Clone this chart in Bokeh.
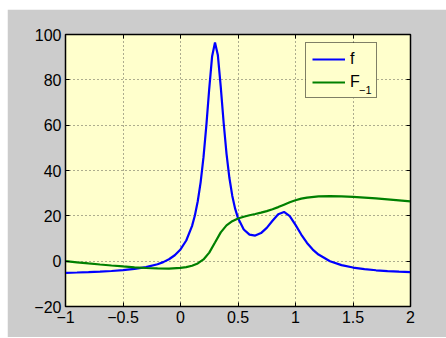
from bokeh.plotting import figure
from bokeh.models import (Range1d, FixedTicker, LinearAxis, Legend, LegendItem,
                          BoxAnnotation)
from bokeh.core.properties import value
from bokeh.embed import file_html
from bokeh.resources import INLINE

# ---- data ----
x_f = [-1, -0.9, -0.8, -0.7, -0.6, -0.5, -0.4, -0.3, -0.2, -0.15, -0.1, -0.05,
       0, 0.05, 0.1, 0.125, 0.15, 0.175, 0.2, 0.225, 0.25, 0.275, 0.3, 0.325,
       0.35, 0.375, 0.4, 0.425, 0.45, 0.475, 0.5, 0.55, 0.6, 0.65, 0.7, 0.75,
       0.8, 0.85, 0.9, 0.95, 1.0, 1.05, 1.1, 1.15, 1.2, 1.3, 1.4, 1.5, 1.6,
       1.7, 1.8, 1.9, 2.0]
f_vals = [-5.14, -5.01, -4.84, -4.63, -4.34, -3.96, -3.42, -2.62, -1.35, -0.42,
          0.84, 2.61, 5.18, 9.11, 15.47, 20.18, 26.43, 34.79, 45.89, 60.02,
          76.16, 90.44, 96.5, 90.82, 76.92, 61.17, 47.45, 36.79, 28.89, 23.15,
          19.0, 13.95, 11.69, 11.30, 12.38, 14.71, 17.85, 20.73, 21.70, 19.84,
          16.0, 11.75, 8.04, 5.12, 2.91, -0.01, -1.73, -2.81, -3.53, -4.02,
          -4.38, -4.65, -4.86]

x_F = [-1, -0.9, -0.8, -0.7, -0.6, -0.5, -0.4, -0.3, -0.2, -0.1, 0, 0.05, 0.1,
       0.15, 0.2, 0.25, 0.3, 0.35, 0.4, 0.45, 0.5, 0.55, 0.6, 0.65, 0.7, 0.75,
       0.8, 0.85, 0.9, 0.95, 1.0, 1.05, 1.1, 1.2, 1.3, 1.4, 1.5, 1.6, 1.7, 1.8,
       1.9, 2.0]
F_vals = [0.0, -0.51, -1.00, -1.47, -1.92, -2.34, -2.71, -3.01, -3.22, -3.26,
          -2.98, -2.63, -2.03, -1.01, 0.75, 3.77, 8.22, 12.70, 15.77, 17.63,
          18.81, 19.61, 20.25, 20.81, 21.40, 22.07, 22.89, 23.85, 24.93, 25.98,
          26.88, 27.57, 28.06, 28.59, 28.72, 28.62, 28.39, 28.07, 27.69, 27.27,
          26.82, 26.35]

x_ticks = [-1, -0.5, 0, 0.5, 1, 1.5, 2]
x_tick_labels = ["\u22121", "\u22120.5", "0", "0.5", "1", "1.5", "2"]
y_ticks = [-20, 0, 20, 40, 60, 80, 100]
y_tick_labels = ["\u221220", "0", "20", "40", "60", "80", "100"]

legend_labels = ["f", "F"]
legend_subscript = "\u22121"

FONT = "Liberation Sans"
BG = "#ffffcc"

p = figure(width=439, height=328, output_backend="svg", toolbar_location=None,
           x_range=Range1d(-1, 2), y_range=Range1d(-20, 100),
           min_border_left=58, min_border_right=36, min_border_top=25,
           min_border_bottom=31,
           background_fill_color=BG, border_fill_color="#cccccc",
           margin=(9, 0, 1, 7))
p.outline_line_color = "black"
p.outline_line_width = 1.5

p.xgrid.ticker = FixedTicker(ticks=x_ticks)
p.ygrid.ticker = FixedTicker(ticks=y_ticks)
for g in (p.xgrid, p.ygrid):
    g.grid_line_color = "#333333"
    g.grid_line_dash = "1 3"
    g.grid_line_width = 1
    g.grid_line_alpha = 0.8

def style_axis(ax, ticks, labels, show):
    ax.ticker = FixedTicker(ticks=ticks)
    ax.major_tick_in = 4
    ax.major_tick_out = 0
    ax.minor_tick_line_color = None
    ax.axis_line_color = "black"
    ax.axis_line_width = 1
    ax.major_tick_line_color = "black"
    ax.major_label_text_font = FONT
    ax.major_label_text_font_size = "16px"
    ax.major_label_text_color = "black"
    ax.major_label_standoff = 4
    if show:
        ax.major_label_overrides = dict(zip(ticks, labels))
    else:
        ax.major_label_overrides = {t: "" for t in ticks}

style_axis(p.xaxis[0], x_ticks, x_tick_labels, True)
style_axis(p.yaxis[0], y_ticks, y_tick_labels, True)
top_ax = LinearAxis()
right_ax = LinearAxis()
style_axis(top_ax, x_ticks, x_tick_labels, False)
style_axis(right_ax, y_ticks, y_tick_labels, False)
p.add_layout(top_ax, "above")
p.add_layout(right_ax, "right")

# opaque background behind the (transparent) legend, hiding the grid there
p.add_layout(BoxAnnotation(left=1.088, right=1.694, bottom=71.9, top=95.5,
                           fill_color=BG, fill_alpha=1.0, line_color=None))

r1 = p.line(x_f, f_vals, line_color="#0000ff", line_width=2.2)
r2 = p.line(x_F, F_vals, line_color="#008000", line_width=2.2)

legend = Legend(items=[LegendItem(label=legend_labels[0], renderers=[r1]),
                       LegendItem(label=legend_labels[1], renderers=[r2])],
                location=(240, 208), margin=0, padding=6, spacing=4,
                glyph_width=33, glyph_height=16, label_standoff=5,
                label_width=20, label_height=19,
                label_text_font=FONT, label_text_font_size="16px",
                label_text_color="black",
                border_line_color="black", border_line_width=1.5,
                background_fill_color=BG, background_fill_alpha=0.0)
p.add_layout(legend)

# subscript of the legend label "F_{-1}"
p.text(x=[1.552], y=[75.3], text=[legend_subscript],
       text_font=value(FONT), text_font_size="11px",
       text_color="black", text_baseline="alphabetic",
       text_align="left", level="overlay")

open("out.html", "w").write(file_html(p, INLINE))
